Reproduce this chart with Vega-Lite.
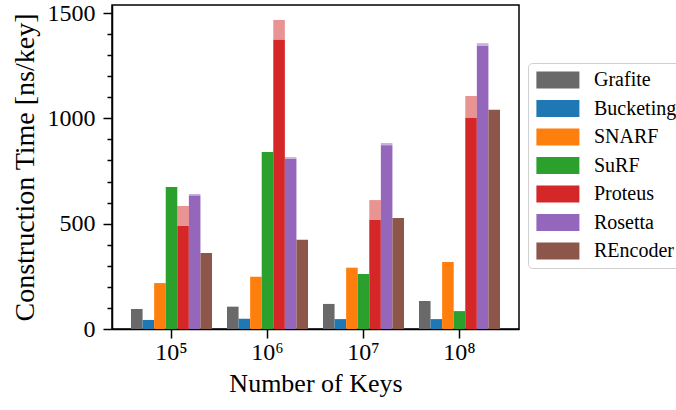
{
  "$schema": "https://vega.github.io/schema/vega-lite/v6.json",
  "width": 407,
  "height": 324,
  "autosize": "none",
  "padding": {"left": 112, "top": 5, "right": 157, "bottom": 81},
  "background": "white",
  "config": {
    "font": "Liberation Serif",
    "view": {"stroke": "black", "strokeWidth": 1.5},
    "axis": {
      "domainColor": "black", "domainWidth": 1.5, "tickColor": "black", "tickWidth": 1.5,
      "labelColor": "black", "titleColor": "black", "grid": false,
      "labelFont": "Liberation Serif", "titleFont": "Liberation Serif", "titleFontWeight": "normal"
    }
  },
  "data": {"values": [
    {"k": "10⁵", "m": "Grafite", "part": "base", "lo": 0, "hi": 95},
    {"k": "10⁵", "m": "Bucketing", "part": "base", "lo": 0, "hi": 43},
    {"k": "10⁵", "m": "SNARF", "part": "base", "lo": 0, "hi": 218},
    {"k": "10⁵", "m": "SuRF", "part": "base", "lo": 0, "hi": 674},
    {"k": "10⁵", "m": "Proteus", "part": "base", "lo": 0, "hi": 489},
    {"k": "10⁵", "m": "Proteus", "part": "extra", "lo": 489, "hi": 584},
    {"k": "10⁵", "m": "Rosetta", "part": "base", "lo": 0, "hi": 634},
    {"k": "10⁵", "m": "Rosetta", "part": "extra", "lo": 634, "hi": 641},
    {"k": "10⁵", "m": "REncoder", "part": "base", "lo": 0, "hi": 361},
    {"k": "10⁶", "m": "Grafite", "part": "base", "lo": 0, "hi": 106},
    {"k": "10⁶", "m": "Bucketing", "part": "base", "lo": 0, "hi": 49},
    {"k": "10⁶", "m": "SNARF", "part": "base", "lo": 0, "hi": 248},
    {"k": "10⁶", "m": "SuRF", "part": "base", "lo": 0, "hi": 840},
    {"k": "10⁶", "m": "Proteus", "part": "base", "lo": 0, "hi": 1373},
    {"k": "10⁶", "m": "Proteus", "part": "extra", "lo": 1373, "hi": 1467},
    {"k": "10⁶", "m": "Rosetta", "part": "base", "lo": 0, "hi": 807},
    {"k": "10⁶", "m": "Rosetta", "part": "extra", "lo": 807, "hi": 816},
    {"k": "10⁶", "m": "REncoder", "part": "base", "lo": 0, "hi": 424},
    {"k": "10⁷", "m": "Grafite", "part": "base", "lo": 0, "hi": 119},
    {"k": "10⁷", "m": "Bucketing", "part": "base", "lo": 0, "hi": 47},
    {"k": "10⁷", "m": "SNARF", "part": "base", "lo": 0, "hi": 291},
    {"k": "10⁷", "m": "SuRF", "part": "base", "lo": 0, "hi": 261},
    {"k": "10⁷", "m": "Proteus", "part": "base", "lo": 0, "hi": 517},
    {"k": "10⁷", "m": "Proteus", "part": "extra", "lo": 517, "hi": 612},
    {"k": "10⁷", "m": "Rosetta", "part": "base", "lo": 0, "hi": 872},
    {"k": "10⁷", "m": "Rosetta", "part": "extra", "lo": 872, "hi": 883},
    {"k": "10⁷", "m": "REncoder", "part": "base", "lo": 0, "hi": 527},
    {"k": "10⁸", "m": "Grafite", "part": "base", "lo": 0, "hi": 133},
    {"k": "10⁸", "m": "Bucketing", "part": "base", "lo": 0, "hi": 47},
    {"k": "10⁸", "m": "SNARF", "part": "base", "lo": 0, "hi": 318},
    {"k": "10⁸", "m": "SuRF", "part": "base", "lo": 0, "hi": 85},
    {"k": "10⁸", "m": "Proteus", "part": "base", "lo": 0, "hi": 1003},
    {"k": "10⁸", "m": "Proteus", "part": "extra", "lo": 1003, "hi": 1106},
    {"k": "10⁸", "m": "Rosetta", "part": "base", "lo": 0, "hi": 1345},
    {"k": "10⁸", "m": "Rosetta", "part": "extra", "lo": 1345, "hi": 1357},
    {"k": "10⁸", "m": "REncoder", "part": "base", "lo": 0, "hi": 1041}
  ]},
  "encoding": {
    "x": {
      "field": "k", "type": "nominal", "sort": ["10⁵", "10⁶", "10⁷", "10⁸"],
      "scale": {"paddingInner": 0.156, "paddingOuter": 0.198},
      "axis": {"labelAngle": 0, "tickSize": 9, "labelFontSize": 24, "labelPadding": 2, "title": "Number of Keys", "titleFontSize": 26, "titlePadding": 6}
    },
    "xOffset": {
      "field": "m", "type": "nominal",
      "sort": ["Grafite", "Bucketing", "SNARF", "SuRF", "Proteus", "Rosetta", "REncoder"],
      "scale": {"paddingInner": 0, "paddingOuter": 0}
    },
    "y": {"field": "hi", "type": "quantitative", "scale": {"domain": [0, 1538], "nice": false}},
    "y2": {"field": "lo"},
    "color": {
      "field": "m", "type": "nominal",
      "sort": ["Grafite", "Bucketing", "SNARF", "SuRF", "Proteus", "Rosetta", "REncoder"],
      "scale": {
        "domain": ["Grafite", "Bucketing", "SNARF", "SuRF", "Proteus", "Rosetta", "REncoder"],
        "range": ["#696969", "#1f77b4", "#ff7f0e", "#2ca02c", "#d62728", "#9467bd", "#8c564b"]
      },
      "legend": {
        "title": null, "orient": "none", "legendX": 416, "legendY": 58,
        "strokeColor": "#d0d0d0", "fillColor": "white", "cornerRadius": 4, "padding": 7,
        "symbolType": "M-1,-1H4V1H-1Z", "symbolSize": 296, "symbolOpacity": 1,
        "symbolStrokeWidth": 0, "labelFontSize": 20, "labelOffset": 39, "rowPadding": 8.5,
        "labelColor": "black", "labelFont": "Liberation Serif"
      }
    }
  },
  "layer": [
    {
      "transform": [{"filter": "datum.part == 'base'"}],
      "mark": {"type": "bar"},
      "encoding": {
        "y": {
          "field": "hi", "type": "quantitative",
          "axis": {"values": [0, 500, 1000, 1500], "format": "d", "orient": "left", "tickSize": 9, "labelFontSize": 24, "labelPadding": 8, "title": "Construction Time [ns/key]", "titleFontSize": 28, "titlePadding": 8}
        }
      }
    },
    {
      "transform": [{"filter": "datum.part == 'extra'"}],
      "mark": {"type": "bar", "opacity": 0.5},
      "encoding": {
        "y": {
          "field": "hi", "type": "quantitative",
          "axis": {"values": [100, 200, 300, 400, 600, 700, 800, 900, 1100, 1200, 1300, 1400], "orient": "left", "tickSize": 5, "labels": false, "domain": false, "title": null}
        }
      }
    }
  ],
  "resolve": {"axis": {"y": "independent"}}
}
